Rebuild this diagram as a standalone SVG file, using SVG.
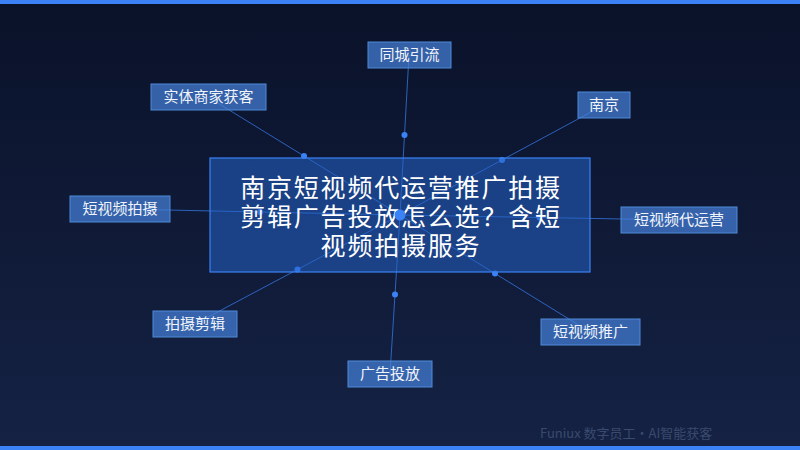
<svg xmlns="http://www.w3.org/2000/svg" width="800" height="450" viewBox="0 0 800 450">
<defs>
<linearGradient id="bg" x1="0" y1="0" x2="0" y2="1">
<stop offset="0" stop-color="#0a1229"/>
<stop offset="1" stop-color="#152244"/>
</linearGradient>
<style>
.ln{stroke:#3b82f6;stroke-opacity:0.7;stroke-width:1;fill:none}
.dot{fill:#3b82f6}
.lbl rect{fill:rgb(70,130,220);fill-opacity:0.7;stroke:#4f8ad8;stroke-width:1}
.lbl text{fill:#f0f4fa;font-family:"Noto Sans CJK SC","Noto Sans",sans-serif;font-size:15px;text-anchor:middle}
.ctr rect{fill:rgb(37,99,200);fill-opacity:0.55;stroke:#3b82f6;stroke-width:1.2}
.ctr text{fill:#ffffff;font-family:"Noto Sans CJK SC","Noto Sans",sans-serif;font-size:25px;letter-spacing:1.8px;text-anchor:middle}
</style>
</defs>
<rect width="800" height="450" fill="url(#bg)"/>
<rect x="0" y="0" width="800" height="4" fill="#3b82f6"/>
<rect x="0" y="446" width="800" height="4" fill="#3b82f6"/>
<g id="connectors">
<line class="ln" x1="400" y1="215" x2="409" y2="55"/>
<line class="ln" x1="400" y1="215" x2="208" y2="97"/>
<line class="ln" x1="400" y1="215" x2="604" y2="105"/>
<line class="ln" x1="400" y1="215" x2="120" y2="209"/>
<line class="ln" x1="400" y1="215" x2="679" y2="220"/>
<line class="ln" x1="400" y1="215" x2="195" y2="324"/>
<line class="ln" x1="400" y1="215" x2="390" y2="374"/>
<line class="ln" x1="400" y1="215" x2="590" y2="332"/>
<circle class="dot" cx="404.5" cy="135" r="3"/>
<circle class="dot" cx="304" cy="156" r="3"/>
<circle class="dot" cx="502" cy="160" r="3"/>
<circle class="dot" cx="260" cy="212" r="3"/>
<circle class="dot" cx="539.5" cy="217.5" r="3"/>
<circle class="dot" cx="297.5" cy="269.5" r="3"/>
<circle class="dot" cx="395" cy="294.5" r="3"/>
<circle class="dot" cx="495" cy="273.5" r="3"/>
</g>
<g id="center" class="ctr">
<rect x="210" y="158" width="380" height="114"/>
<text x="401" y="197">南京短视频代运营推广拍摄</text>
<text x="401" y="226">剪辑广告投放怎么选？含短</text>
<text x="401" y="255">视频拍摄服务</text>
<circle cx="400" cy="215" r="5.5" fill="#3b82f6"/>
</g>
<g id="n1" class="lbl"><rect x="368" y="42" width="83" height="26"/><text x="409.5" y="60">同城引流</text></g>
<g id="n2" class="lbl"><rect x="151" y="84" width="115" height="26"/><text x="208.5" y="102">实体商家获客</text></g>
<g id="n3" class="lbl"><rect x="578" y="92" width="52" height="26"/><text x="604" y="110">南京</text></g>
<g id="n4" class="lbl"><rect x="70" y="196" width="100" height="26"/><text x="120" y="214">短视频拍摄</text></g>
<g id="n5" class="lbl"><rect x="621" y="207" width="116" height="26"/><text x="679" y="225">短视频代运营</text></g>
<g id="n6" class="lbl"><rect x="153" y="311" width="84" height="26"/><text x="195" y="329">拍摄剪辑</text></g>
<g id="n7" class="lbl"><rect x="348" y="361" width="84" height="26"/><text x="390" y="379">广告投放</text></g>
<g id="n8" class="lbl"><rect x="541" y="319" width="99" height="26"/><text x="590.5" y="337">短视频推广</text></g>
<text x="540" y="438" fill="#3a4a6e" font-family="'Noto Sans CJK SC','Noto Sans',sans-serif" font-size="13">Funiux 数字员工·AI智能获客</text>
</svg>
